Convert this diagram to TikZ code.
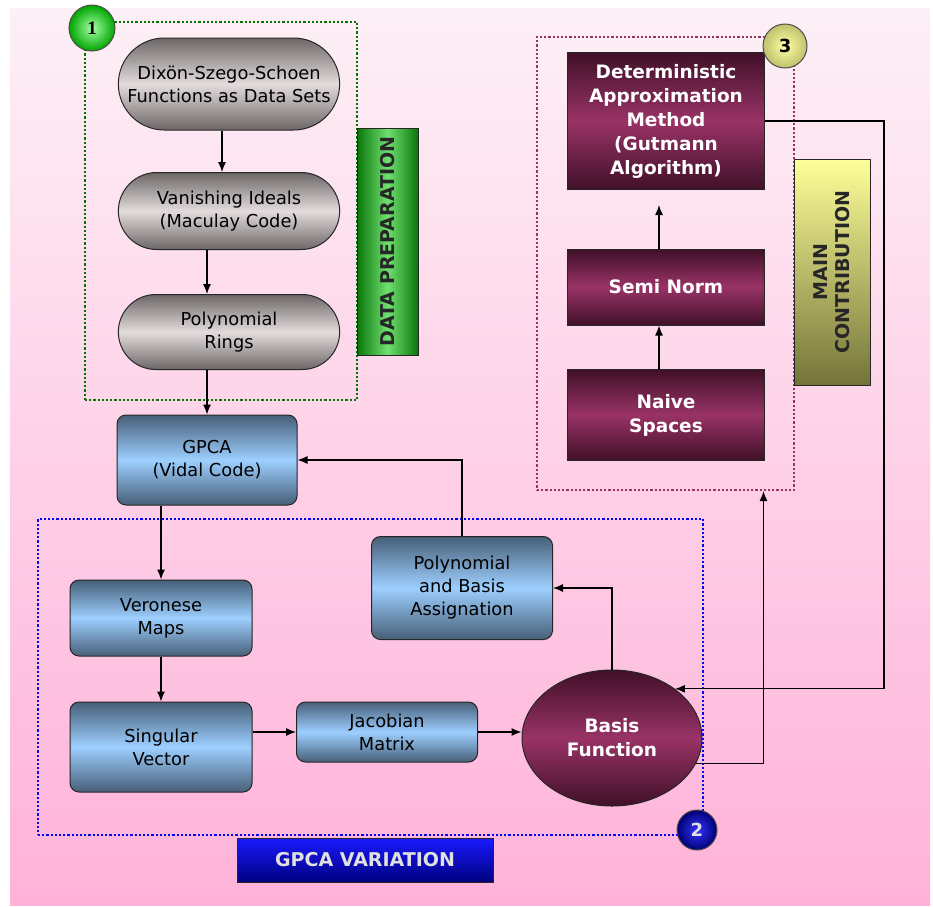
\documentclass[tikz,border=0pt]{standalone}
\usepackage{fontspec}
\setmainfont{DejaVu Sans}
\newfontfamily\numfont{Liberation Serif}
\usepackage{tikz}
\usetikzlibrary{shapes.misc, shapes.geometric, arrows.meta, positioning, calc}

\definecolor{bgtop}{HTML}{FDF0F6}
\definecolor{bgbot}{HTML}{FFB2D9}
\definecolor{grayedge}{HTML}{6C6666}
\definecolor{graymid}{HTML}{E4DCDC}
\definecolor{bluedark}{HTML}{475F78}
\definecolor{bluelight}{HTML}{9DCFFF}
\definecolor{maroondark}{HTML}{401028}
\definecolor{maroonmid}{HTML}{993366}
\definecolor{greendark}{HTML}{0A760A}
\definecolor{greenlight}{HTML}{70E070}
\definecolor{yellowtop}{HTML}{FFFF99}
\definecolor{olivebot}{HTML}{74743A}

\begin{document}
\begin{tikzpicture}[
    x=1pt, y=-1pt,
    font=\fontsize{17.8}{23}\selectfont,
    stadium/.style={draw=black!85, line width=1pt, rounded rectangle, minimum width=228pt, align=center, top color=grayedge, bottom color=grayedge, middle color=graymid},
    bluebox/.style={draw=black!85, line width=1pt, rectangle, rounded corners=9pt, align=center, top color=bluedark, bottom color=bluedark, middle color=bluelight},
    maroonbox/.style={draw=black!85, line width=1pt, rectangle, align=center, text=white, font=\fontsize{18.5}{24}\selectfont\bfseries, minimum width=197pt, top color=maroondark, bottom color=maroondark, middle color=maroonmid},
    frame/.style={dotted, line width=2.2pt},
    tag/.style={draw=black!85, line width=1pt, align=center, font=\fontsize{19}{22}\selectfont\bfseries},
    badge/.style={circle, draw=black!70, line width=1pt, inner sep=0pt, font=\fontsize{18}{18}\selectfont\bfseries},
    arrow/.style={line width=1.2pt, -{Latex[length=10pt,width=8pt]}}
]
\useasboundingbox (0,0) rectangle (933,906);
\shade[top color=bgtop, bottom color=bgbot] (10,8) rectangle (930,905);

% Data preparation
\node[stadium, minimum height=92pt] (dss) at (229,84) {Dixön-Szego-Schoen\\Functions as Data Sets};
\node[stadium, minimum height=77pt] (vi) at (229,211) {Vanishing Ideals\\(Maculay Code)};
\node[stadium, minimum height=75pt] (pr) at (229,332) {Polynomial\\Rings};

% GPCA variation
\node[bluebox, minimum width=180pt, minimum height=90pt] (gpca) at (207,460) {GPCA\\(Vidal Code)};
\node[bluebox, minimum width=182pt, minimum height=76pt] (ver) at (161,618) {Veronese\\Maps};
\node[bluebox, minimum width=182pt, minimum height=90pt] (sv) at (161,747) {Singular\\Vector};
\node[bluebox, minimum width=181pt, minimum height=60pt] (jac) at (387,732) {Jacobian\\Matrix};
\node[bluebox, minimum width=181pt, minimum height=103pt] (pba) at (462,588) {Polynomial\\and Basis\\Assignation};
\node[ellipse, draw=black!85, line width=1pt, minimum width=180pt, minimum height=136pt, align=center, text=white, font=\fontsize{18.5}{24}\selectfont\bfseries, top color=maroondark, bottom color=maroondark, middle color=maroonmid] (basis) at (612,738) {Basis\\Function};

% Main contribution
\node[maroonbox, minimum height=137pt] (det) at (666,121) {Deterministic\\Approximation\\Method\\(Gutmann\\Algorithm)};
\node[maroonbox, minimum height=76pt] (semi) at (666,287) {Semi Norm};
\node[maroonbox, minimum height=91pt] (naive) at (666,415) {Naive\\Spaces};

% Frames
\node[frame, draw=green!45!black, minimum width=272pt, minimum height=378pt] (green) at (221,211) {};
\node[frame, draw=blue, minimum width=665pt, minimum height=316pt] (blue) at (370.5,677) {};
\node[frame, draw=maroonmid, minimum width=257pt, minimum height=453pt] (pink) at (665.5,263.5) {};

% Tags
\node[tag, rotate=90, minimum width=227pt, minimum height=61pt, text=black!85, left color=greendark, right color=greendark, middle color=greenlight] (dataprep) at (387.5,241.5) {DATA PREPARATION};
\node[tag, rotate=90, minimum width=226pt, minimum height=76pt, text=black!85, top color=yellowtop, bottom color=olivebot] (maincontr) at (832,272) {MAIN\\CONTRIBUTION};
\node[tag, minimum width=256pt, minimum height=44pt, text=black!12, top color=blue!90!white, bottom color=blue!50!black] (gpcavar) at (365,860) {GPCA VARIATION};

% Badges
\node[badge, minimum size=46pt, inner color=green!35!white, outer color=green!65!black, font=\fontsize{19}{19}\selectfont\numfont\bfseries] (one) at (92,28) {1};
\node[badge, minimum size=40pt, inner color=blue!80!white, outer color=blue!45!black, text=black!12] (two) at (697,830) {2};
\node[badge, minimum size=44pt, inner color=yellowtop!90!white, outer color=yellowtop!55!olivebot] (three) at (785,46) {3};

% Connections
\draw[arrow] ([xshift=-7pt]dss.south) -- ([xshift=-7pt]vi.north);
\draw[arrow] ([xshift=-22pt]vi.south) -- ([xshift=-22pt]pr.north);
\draw[arrow] ([xshift=-22pt]pr.south) -- (gpca);
\draw[arrow] (gpca.south -| ver) -- (ver);
\draw[arrow] (ver) -- (sv);
\draw[arrow] (sv.east |- jac) -- (jac);
\draw[arrow] (jac) -- (jac -| basis.west);
\draw[arrow] (basis.north) |- (pba.east);
\draw[arrow] (pba.north) |- (gpca.east);
\draw[arrow] ([xshift=-7pt]naive.north) -- ([xshift=-7pt]semi.south);
\draw[arrow, shorten >=15pt] ([xshift=-7pt]semi.north) -- ([xshift=-7pt]det.south);
\draw[arrow] (basis.-17) -| ([xshift=98pt]pink.south);
\draw[arrow] (det.east) -- ++(119,0) |- (basis.38);
\end{tikzpicture}
\end{document}
